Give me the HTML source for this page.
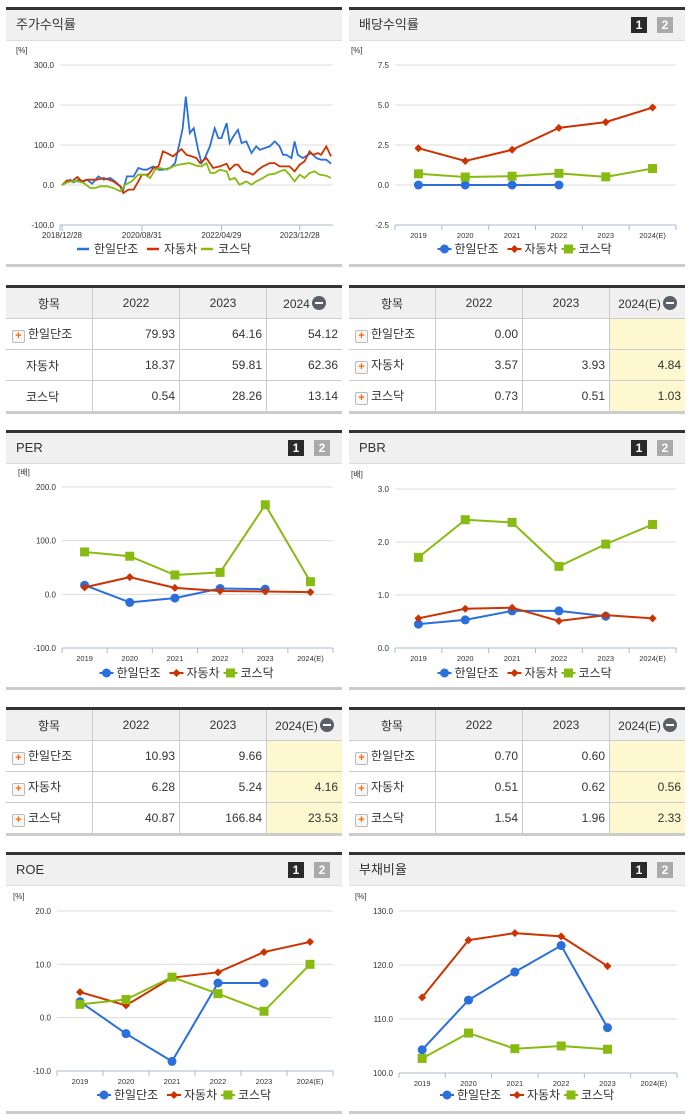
<!DOCTYPE html>
<html><head><meta charset="utf-8">
<style>
body{margin:0;width:691px;height:1115px;background:#fff;position:relative;overflow:hidden;font-family:"Liberation Sans","Noto Sans CJK KR",sans-serif;}
.panel{position:absolute;width:336px;border-top:3px solid #333;border-bottom:3px solid #ccc;box-sizing:border-box;}
.phead{height:30px;background:#f0f0f0;border-bottom:1px solid #ddd;font-size:13px;color:#333;line-height:30px;padding-left:10px;position:relative;}
.b1,.b2{position:absolute;top:7px;width:16px;height:16px;font-size:12px;font-weight:bold;color:#fff;text-align:center;line-height:16px;}
.b1{right:38px;background:#2a2a2a}.b2{right:12px;background:#aaa}
table{position:absolute;width:336px;border-collapse:collapse;border-top:3px solid #333;border-bottom:3px solid #ccc;font-size:12px;color:#333;}
td,th{border:1px solid #ccc;height:30px;padding-top:0;padding-bottom:0;font-weight:normal;}
th{background:#f0f0f0;text-align:center;height:30px;}
td{text-align:right;padding-right:4px;}
td.n{text-align:left;padding-left:6px;}
tr td:first-child,tr th:first-child{border-left:none}
tr td:last-child,tr th:last-child{border-right:none}
.y{background:#fdf8cf}
.pl{display:inline-block;width:11px;height:11px;border:1px solid #bbb;border-radius:2px;background:#f7f7f7;color:#f60;font-weight:bold;font-size:11px;line-height:10px;text-align:center;vertical-align:-1px;margin-right:3px;}
.mi{display:inline-block;width:14px;height:14px;border-radius:7px;background:#5b5f66;vertical-align:-2px;position:relative;margin-left:2px}
.mi:after{content:"";position:absolute;left:3px;top:6px;width:8px;height:2px;background:#fff}
svg{position:absolute;left:0;top:0}
</style></head><body>
<div class="panel" style="left:6px;top:7px;height:260px"><div class="phead">주가수익률</div></div>
<div class="panel" style="left:349px;top:7px;height:260px"><div class="phead">배당수익률<span class="b1">1</span><span class="b2">2</span></div></div>
<div class="panel" style="left:6px;top:430px;height:260px"><div class="phead">PER<span class="b1">1</span><span class="b2">2</span></div></div>
<div class="panel" style="left:349px;top:430px;height:260px"><div class="phead">PBR<span class="b1">1</span><span class="b2">2</span></div></div>
<div class="panel" style="left:6px;top:852px;height:262px"><div class="phead">ROE<span class="b1">1</span><span class="b2">2</span></div></div>
<div class="panel" style="left:349px;top:852px;height:262px"><div class="phead">부채비율<span class="b1">1</span><span class="b2">2</span></div></div>

<table style="left:6px;top:285px">
<tr><th style="width:84px">항목</th><th style="width:84px">2022</th><th style="width:84px">2023</th><th>2024<span class="mi"></span></th></tr>
<tr><td class="n"><span class="pl">+</span>한일단조</td><td>79.93</td><td>64.16</td><td>54.12</td></tr>
<tr><td class="n" style="padding-left:20px">자동차</td><td>18.37</td><td>59.81</td><td>62.36</td></tr>
<tr><td class="n" style="padding-left:20px">코스닥</td><td>0.54</td><td>28.26</td><td>13.14</td></tr>
</table>
<table style="left:349px;top:285px">
<tr><th style="width:84px">항목</th><th style="width:84px">2022</th><th style="width:84px">2023</th><th>2024(E)<span class="mi"></span></th></tr>
<tr><td class="n"><span class="pl">+</span>한일단조</td><td>0.00</td><td></td><td class="y"></td></tr>
<tr><td class="n"><span class="pl">+</span>자동차</td><td>3.57</td><td>3.93</td><td class="y">4.84</td></tr>
<tr><td class="n"><span class="pl">+</span>코스닥</td><td>0.73</td><td>0.51</td><td class="y">1.03</td></tr>
</table>
<table style="left:6px;top:707px">
<tr><th style="width:84px">항목</th><th style="width:84px">2022</th><th style="width:84px">2023</th><th>2024(E)<span class="mi"></span></th></tr>
<tr><td class="n"><span class="pl">+</span>한일단조</td><td>10.93</td><td>9.66</td><td class="y"></td></tr>
<tr><td class="n"><span class="pl">+</span>자동차</td><td>6.28</td><td>5.24</td><td class="y">4.16</td></tr>
<tr><td class="n"><span class="pl">+</span>코스닥</td><td>40.87</td><td>166.84</td><td class="y">23.53</td></tr>
</table>
<table style="left:349px;top:707px">
<tr><th style="width:84px">항목</th><th style="width:84px">2022</th><th style="width:84px">2023</th><th>2024(E)<span class="mi"></span></th></tr>
<tr><td class="n"><span class="pl">+</span>한일단조</td><td>0.70</td><td>0.60</td><td class="y"></td></tr>
<tr><td class="n"><span class="pl">+</span>자동차</td><td>0.51</td><td>0.62</td><td class="y">0.56</td></tr>
<tr><td class="n"><span class="pl">+</span>코스닥</td><td>1.54</td><td>1.96</td><td class="y">2.33</td></tr>
</table>

<svg id="cv" width="691" height="1115" xmlns="http://www.w3.org/2000/svg"></svg>

<script>
// ---- stock return (months since 2018/12) ----
const retBlueT=[0,1.3,2.1,2.9,4.2,5.5,6.3,7.6,9.2,10.5,12.2,13.4,14.7,15.5,16.4,18.1,19.3,20.6,21.4,23.1,24.4,25.6,27.3,28.6,29.8,30.5,31.3,32.3,33.3,34.4,35.3,36.1,37.4,38.6,39.5,40.3,41.6,42.4,43.3,44.5,45.4,46.6,47.9,49.1,50.0,51.2,52.5,53.8,55.0,55.9,56.7,58.0,58.8,59.6,60.9,62.2,63.0,64.3,65.5,66.8,68.0];
const retBlue=[0,6.6,13.3,6.6,13.3,9.1,13.3,3.3,21.6,13.3,17.5,9.1,-3.3,-11.6,21.6,21.6,42.4,38.2,38.2,46.5,38.2,38.2,42.4,54.8,108.9,142.1,221,129.8,142.1,88.1,54.8,67.3,96.4,142.1,117.2,117.2,154.6,104.7,121.3,137.9,104.7,108.9,79.8,96.4,88.1,92.3,96.4,108.9,96.4,75.6,75.6,67.3,108.9,75.6,67.3,75.6,79.8,67.3,63.2,63.2,53.2];
const retRedT=[0,1.3,2.5,3.9,5.0,6.3,7.6,8.8,10.5,11.8,13.0,14.7,15.5,16.8,18.1,19.3,20.2,21.8,23.1,24.4,25.5,26.5,28.1,29.0,30.2,31.5,32.8,34.0,34.9,36.5,38.2,39.9,41.6,42.4,43.7,44.5,45.8,47.0,48.3,49.6,50.8,52.5,53.8,55.0,56.3,57.5,58.8,60.1,61.3,62.6,63.4,64.7,65.5,66.8,68.0];
const retRed=[0,11.6,9.1,19.9,9.1,13.3,13.3,13.3,17.5,13.3,9.1,-3.3,-20,-11.6,-11.6,9.1,25.8,25.8,42.4,46.5,83.9,79.8,71.5,79.8,89.7,75.6,71.5,67.3,54.8,67.3,42.4,46.5,53.2,38.2,50.7,50.7,34.1,31.6,25.8,38.2,46.5,54.8,54.8,46.5,46.5,46.5,34.1,50.7,59.0,83.9,75.6,79.8,75.6,96.4,71.5];
const retGreenT=[0,1.3,2.5,3.9,5.5,7.1,8.4,9.7,11.3,13.0,14.7,16.0,17.6,19.3,21.0,22.3,23.5,24.8,26.5,28.1,29.4,31.1,32.3,34.0,35.3,36.5,37.5,38.6,39.9,41.6,42.4,43.7,44.9,46.6,47.9,49.1,50.8,52.1,53.8,55.0,56.3,57.5,58.8,60.1,61.3,62.6,63.8,65.1,66.8,68.0];
const retGreen=[0,6.6,9.1,9.1,5.0,-7.5,-7.5,-3.3,-3.3,-7.5,-15.8,0.8,9.1,25.8,25.8,17.5,38.2,42.4,38.2,46.5,50.7,53.2,54.8,48.2,46.5,54.8,29.9,29.9,38.2,34.1,13.3,17.5,0.8,9.1,0.8,9.1,17.5,25.8,28.3,34.1,38.2,25.8,9.1,25.8,17.5,29.9,34.1,25.8,23.3,17.5];
const retTickLabels=["2018/12/28","2020/08/31","2022/04/29","2023/12/28"];
const retTickT=[0,20.2,40.3,60.1];
const retYTicks=[300,200,100,0,-100];
// ---- annual charts ----
const years=["2019","2020","2021","2022","2023","2024(E)"];
const divHanil=[0,0,0,0,null,null];
const divAuto=[2.3,1.5,2.2,3.57,3.93,4.84];
const divKosdaq=[0.7,0.5,0.55,0.73,0.51,1.03];
const divTicks=[7.5,5.0,2.5,0.0,-2.5];
const perHanil=[17,-15,-7,10.93,9.66,null];
const perAuto=[13,32,12,6.28,5.24,4.16];
const perKosdaq=[79,71,36,40.87,166.84,23.53];
const perTicks=[200,100,0,-100];
const pbrHanil=[0.45,0.53,0.70,0.70,0.60,null];
const pbrAuto=[0.56,0.74,0.76,0.51,0.62,0.56];
const pbrKosdaq=[1.71,2.42,2.37,1.54,1.96,2.33];
const pbrTicks=[3,2,1,0];
const roeHanil=[3,-3,-8.2,6.5,6.5,null];
const roeAuto=[4.8,2.3,7.5,8.5,12.3,14.2];
const roeKosdaq=[2.5,3.4,7.6,4.5,1.2,10];
const roeTicks=[20,10,0,-10];
const debtHanil=[104.3,113.5,118.7,123.6,108.4,null];
const debtAuto=[114,124.6,125.9,125.3,119.8,null];
const debtKosdaq=[102.7,107.4,104.5,105,104.4,null];
const debtTicks=[130,120,110,100];
const seriesNames=["한일단조","자동차","코스닥"];
const colors=["#2a6fdb","#cc3300","#88bb11"];

const NS="http://www.w3.org/2000/svg";
const cv=document.getElementById('cv');
function mk(tag,at,parent){const e=document.createElementNS(NS,tag);for(const k in at)e.setAttribute(k,at[k]);(parent||cv).appendChild(e);return e;}
function txt(x,y,s,size,anchor,fill){const t=mk('text',{x:x,y:y,'font-size':size,'text-anchor':anchor||'start',fill:fill||'#333','font-family':'Liberation Sans, Noto Sans CJK KR, sans-serif'});t.textContent=s;return t;}

function axes(box,ticks,unit){
  const ys=v=>box.y0+(ticks[0]-v)/(ticks[0]-ticks[ticks.length-1])*(box.y1-box.y0);
  txt(box.l-44,box.y0-12,unit,8,'start','#333');
  ticks.forEach((v,i)=>{
    const y=ys(v);
    if(i<ticks.length-1){const g=mk('line',{x1:box.l,x2:box.r,y1:y,y2:y,stroke:'#dcdcdc','stroke-width':1});
      
      }
    const t=txt(box.l-6,y+3,v.toFixed(1),8,'end','#333');
    
    
  });
  mk('line',{x1:box.l,x2:box.r,y1:box.y1,y2:box.y1,stroke:'#aabbcc','stroke-width':1});
  return ys;
}
function marker(x,y,i){
  const c=colors[i];let m;
  if(i===0)m=mk('circle',{cx:x,cy:y,r:4.5,fill:c});
  else if(i===1)m=mk('path',{d:`M${x} ${y-4}L${x+4} ${y}L${x} ${y+4}L${x-4} ${y}Z`,fill:c});
  else m=mk('rect',{x:x-4.5,y:y-4.5,width:9,height:9,fill:c});
  return m;
}
function legend(cx,y,markers){
  const w=[70,54,50];let x=cx-88;
  seriesNames.forEach((n,i)=>{
    const c=colors[i];
    if(!markers){mk('line',{x1:x,x2:x+12,y1:y,y2:y,stroke:c,'stroke-width':2.5});}
    else{mk('line',{x1:x,x2:x+14,y1:y,y2:y,stroke:c,'stroke-width':2});marker(x+7,y,i);}
    const t=txt(x+17,y+4,n,12,'start','#333');
    
    
    x+=w[i];
  });
}
function annual(box,ticks,unit,data,legendY){
  const ys=axes(box,ticks,unit);
  const bw=(box.r-box.l)/years.length;
  const xs=i=>box.l+bw*(i+0.5);
  for(let i=0;i<=years.length;i++)mk('line',{x1:box.l+bw*i,x2:box.l+bw*i,y1:box.y1,y2:box.y1+5,stroke:'#aabbcc'});
  years.forEach((y,i)=>{const t=txt(xs(i),box.y1+13,y,7.5,'middle','#333');
    
    });
  data.forEach((arr,si)=>{
    let d='';arr.forEach((v,i)=>{if(v===null)return;d+=(d?'L':'M')+xs(i)+' '+ys(v);});
    const p=mk('path',{d:d,fill:'none',stroke:colors[si],'stroke-width':2});
    
    
    arr.forEach((v,i)=>{if(v===null)return;const m=marker(xs(i),ys(v),si);
      
      });
  });
  legend((box.l+box.r)/2-10,legendY,true);
}
(function(){
  const box={l:60,r:333,y0:65,y1:225};
  const ys=axes(box,retYTicks,'[%]');
  const tMax=68;const xs=t=>62+t/tMax*(331-62);
  mk('line',{x1:box.l,x2:box.l,y1:box.y1,y2:box.y1+6,stroke:'#aabbcc'});
  retTickT.forEach((t,i)=>{mk('line',{x1:xs(t),x2:xs(t),y1:box.y1,y2:box.y1+6,stroke:'#aabbcc'});
    const l=txt(xs(t),box.y1+13,retTickLabels[i],8,'middle','#333');
    
    });
  [[retBlueT,retBlue],[retRedT,retRed],[retGreenT,retGreen]].forEach((s,si)=>{
    let d='';s[0].forEach((t,i)=>{d+=(i?'L':'M')+xs(t).toFixed(1)+' '+ys(s[1][i]).toFixed(1);});
    const p=mk('path',{d:d,fill:'none',stroke:colors[si],'stroke-width':1.8});
    
    
  });
  legend(165,249,false);
})();
annual({l:395,r:676,y0:65,y1:225},divTicks,'[%]',[divHanil,divAuto,divKosdaq],249);
annual({l:62,r:333,y0:487,y1:648},perTicks,'[배]',[perHanil,perAuto,perKosdaq],673);
annual({l:395,r:676,y0:489,y1:648},pbrTicks,'[배]',[pbrHanil,pbrAuto,pbrKosdaq],673);
annual({l:57,r:333,y0:911,y1:1071},roeTicks,'[%]',[roeHanil,roeAuto,roeKosdaq],1095);
annual({l:399,r:677,y0:911,y1:1073},debtTicks,'[%]',[debtHanil,debtAuto,debtKosdaq],1095);
</script>
</body></html>
